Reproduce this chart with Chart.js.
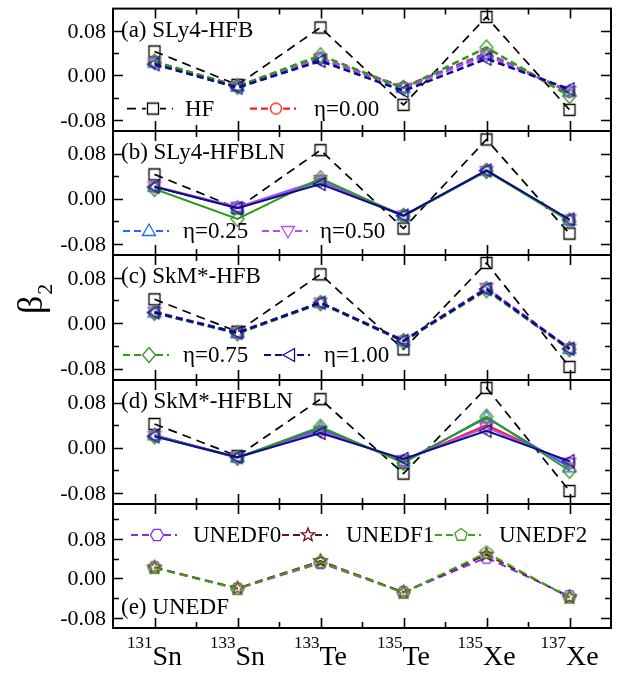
<!DOCTYPE html>
<html>
<head>
<meta charset="utf-8">
<script src="https://cdn.jsdelivr.net/npm/chart.js@4.4.0/dist/chart.umd.min.js"></script>
<style>
  html, body { margin: 0; padding: 0; background: #fff; }
  #wrap { position: relative; width: 622px; height: 673px; }
  #wrap canvas { position: absolute; left: 0; top: 0; }
</style>
</head>
<body>
<div id="wrap"></div>
<script>
// categories (nuclei) : mass number + element
const massNumbers = ['131', '133', '133', '135', '135', '137'];
const elements = ['Sn', 'Sn', 'Te', 'Te', 'Xe', 'Xe'];

// y ticks
const yMajorTicks = [-0.08, 0.00, 0.08];
const yTickLabels = ['-0.08', '0.00', '0.08'];
const yMinorTicks = [-0.04, 0.04, 0.12];

// HF reference values
const hfSLy4 = [0.043, -0.017, 0.086, -0.053, 0.105, -0.062];
const hfSkM = [0.042, -0.015, 0.086, -0.046, 0.106, -0.077];

// (a) SLy4-HFB
const aEta000 = [0.024, -0.019, 0.031, -0.021, 0.040, -0.030];
const aEta025 = [0.023, -0.020, 0.030, -0.022, 0.038, -0.029];
const aEta050 = [0.023, -0.021, 0.030, -0.023, 0.036, -0.028];
const aEta075 = [0.025, -0.020, 0.036, -0.023, 0.050, -0.037];
const aEta100 = [0.020, -0.022, 0.026, -0.028, 0.030, -0.025];

// (b) SLy4-HFBLN
const bEta000 = [0.021, -0.016, 0.031, -0.030, 0.050, -0.038];
const bEta025 = [0.021, -0.016, 0.031, -0.030, 0.050, -0.038];
const bEta050 = [0.022, -0.015, 0.033, -0.030, 0.049, -0.037];
const bEta075 = [0.017, -0.036, 0.036, -0.031, 0.049, -0.040];
const bEta100 = [0.021, -0.017, 0.026, -0.030, 0.050, -0.037];

// (c) SkM*-HFB
const cEta000 = [0.019, -0.017, 0.036, -0.031, 0.061, -0.045];
const cEta025 = [0.019, -0.017, 0.036, -0.031, 0.061, -0.045];
const cEta050 = [0.020, -0.017, 0.036, -0.031, 0.062, -0.045];
const cEta075 = [0.018, -0.018, 0.035, -0.032, 0.058, -0.046];
const cEta100 = [0.019, -0.017, 0.036, -0.031, 0.060, -0.045];

// (d) SkM*-HFBLN
const dEta000 = [0.022, -0.017, 0.030, -0.023, 0.040, -0.028];
const dEta025 = [0.022, -0.017, 0.034, -0.025, 0.053, -0.035];
const dEta050 = [0.021, -0.018, 0.029, -0.022, 0.036, -0.027];
const dEta075 = [0.020, -0.018, 0.037, -0.027, 0.055, -0.041];
const dEta100 = [0.020, -0.017, 0.026, -0.020, 0.030, -0.024];

// (e) UNEDF
const unedf0 = [0.022, -0.021, 0.031, -0.028, 0.042, -0.036];
const unedf1 = [0.022, -0.020, 0.035, -0.028, 0.048, -0.038];
const unedf2 = [0.021, -0.021, 0.033, -0.029, 0.052, -0.039];

const FONT = '"Liberation Serif", "Times New Roman", serif';
const W = 622, H = 673;
const plotLeft = 113, plotRight = 611;
const panelEdges = [7, 131, 255, 380, 504, 628];

// hollow marker images
function makeMarker(shape, color) {
    const c = document.createElement('canvas');
    c.width = 22; c.height = 22;
    const g = c.getContext('2d');
    g.translate(11, 11);
    g.strokeStyle = color;
    g.lineWidth = 1.3;
    g.beginPath();
    const poly = (pts) => { g.moveTo(pts[0][0], pts[0][1]); pts.slice(1).forEach(p => g.lineTo(p[0], p[1])); g.closePath(); };
    const regular = (n, r, rot) => {
        const pts = [];
        for (let k = 0; k < n; k++) {
            const t = rot + k * 2 * Math.PI / n;
            pts.push([r * Math.cos(t), r * Math.sin(t)]);
        }
        poly(pts);
    };
    switch (shape) {
        case 'square': g.rect(-5.5, -5.5, 11, 11); break;
        case 'circle': g.arc(0, 0, 5.5, 0, 2 * Math.PI); break;
        case 'triUp': poly([[0, -7], [6.5, 4.5], [-6.5, 4.5]]); break;
        case 'triDown': poly([[0, 7], [6.5, -4.5], [-6.5, -4.5]]); break;
        case 'triLeft': poly([[-7, 0], [4.5, -6.5], [4.5, 6.5]]); break;
        case 'diamond': poly([[0, -7.5], [6.5, 0], [0, 7.5], [-6.5, 0]]); break;
        case 'hexagon': regular(6, 6.5, 0); break;
        case 'pentagon': regular(5, 6.5, -Math.PI / 2); break;
        case 'star': {
            const pts = [];
            for (let k = 0; k < 10; k++) {
                const r = k % 2 ? 3 : 7;
                const t = -Math.PI / 2 + k * Math.PI / 5;
                pts.push([r * Math.cos(t), r * Math.sin(t)]);
            }
            poly(pts);
            break;
        }
    }
    g.stroke();
    return c;
}

// series styles
const styles = {
    hf:     { label: 'HF',     color: '#000000', shape: 'square' },
    e000:   { label: 'η=0.00', color: '#ff1a1a', shape: 'circle' },
    e025:   { label: 'η=0.25', color: '#2266ff', shape: 'triUp' },
    e050:   { label: 'η=0.50', color: '#b050f0', shape: 'triDown' },
    e075:   { label: 'η=0.75', color: '#2f9a1a', shape: 'diamond' },
    e100:   { label: 'η=1.00', color: '#0c0c8a', shape: 'triLeft' },
    u0:     { label: 'UNEDF0', color: '#7a30ee', shape: 'hexagon' },
    u1:     { label: 'UNEDF1', color: '#6e0d0d', shape: 'star' },
    u2:     { label: 'UNEDF2', color: '#3fa51a', shape: 'pentagon' }
};
Object.values(styles).forEach(s => { s.marker = makeMarker(s.shape, s.color); });

const hfDash = [9, 6];
const etaDash = [7, 4];

function series(key, values, kind) {
    const s = styles[key];
    let dash = [], width = 2;
    if (kind === 'hf') { dash = hfDash; width = 1.7; }
    else if (kind === 'dash') { dash = etaDash; width = 2.6; }
    else if (kind === 'udash') { dash = [8, 5]; width = 2; }
    return {
        label: s.label,
        data: values.map((v, i) => ({ x: i, y: v })),
        borderColor: s.color,
        borderWidth: width,
        borderDash: dash,
        pointStyle: s.marker,
        pointRadius: 6,
        pointHoverRadius: 6,
        fill: false,
        tension: 0
    };
}

function etaSet(vals, kind) {
    return [series('e000', vals[0], kind), series('e025', vals[1], kind), series('e050', vals[2], kind),
            series('e075', vals[3], kind), series('e100', vals[4], kind)];
}

const panels = [
    { title: '(a) SLy4-HFB', yMax: 0.12, titleY: 22,
      datasets: [series('hf', hfSLy4, 'hf')].concat(etaSet([aEta000, aEta025, aEta050, aEta075, aEta100], 'dash')),
      legendY: 100, legend: [['hf', 127, 185], ['e000', 250, 314]] },
    { title: '(b) SLy4-HFBLN', yMax: 0.12, titleY: 22,
      datasets: [series('hf', hfSLy4, 'hf')].concat(etaSet([bEta000, bEta025, bEta050, bEta075, bEta100], 'solid')),
      legendY: 100, legend: [['e025', 123, 183], ['e050', 262, 320]] },
    { title: '(c) SkM*-HFB', yMax: 0.12, titleY: 22, axisTitle: true,
      datasets: [series('hf', hfSkM, 'hf')].concat(etaSet([cEta000, cEta025, cEta050, cEta075, cEta100], 'dash')),
      legendY: 100, legend: [['e075', 123, 183], ['e100', 264, 324]] },
    { title: '(d) SkM*-HFBLN', yMax: 0.12, titleY: 22,
      datasets: [series('hf', hfSkM, 'hf')].concat(etaSet([dEta000, dEta025, dEta050, dEta075, dEta100], 'solid')),
      legendY: 100, legend: [] },
    { title: '(e) UNEDF', yMax: 0.15, titleY: 104,
      datasets: [series('u0', unedf0, 'udash'), series('u1', unedf1, 'udash'), series('u2', unedf2, 'udash')],
      legendY: 31, legend: [['u0', 131, 193], ['u1', 282, 346], ['u2', 435, 499]], last: true }
];

function drawPanelDecor(chart, p) {
    const ctx = chart.ctx, a = chart.chartArea;
    const xs = chart.scales.x, ys = chart.scales.y;
    ctx.save();
    ctx.strokeStyle = '#000';
    ctx.fillStyle = '#000';

    // ticks (inward)
    ctx.lineWidth = 1.6;
    ctx.beginPath();
    yMajorTicks.forEach(v => {
        const py = Math.round(ys.getPixelForValue(v)) + 0.5;
        ctx.moveTo(a.left, py); ctx.lineTo(a.left + 10, py);
        ctx.moveTo(a.right, py); ctx.lineTo(a.right - 10, py);
    });
    yMinorTicks.filter(v => v < p.yMax - 0.001).forEach(v => {
        const py = Math.round(ys.getPixelForValue(v)) + 0.5;
        ctx.moveTo(a.left, py); ctx.lineTo(a.left + 6, py);
        ctx.moveTo(a.right, py); ctx.lineTo(a.right - 6, py);
    });
    massNumbers.forEach((m, i) => {
        const px = Math.round(xs.getPixelForValue(i)) + 0.5;
        ctx.moveTo(px, a.top); ctx.lineTo(px, a.top + 10);
        ctx.moveTo(px, a.bottom); ctx.lineTo(px, a.bottom - 10);
        if (i < massNumbers.length - 1) {
            const hx = Math.round(xs.getPixelForValue(i + 0.5)) + 0.5;
            ctx.moveTo(hx, a.top); ctx.lineTo(hx, a.top + 6);
            ctx.moveTo(hx, a.bottom); ctx.lineTo(hx, a.bottom - 6);
        }
    });
    ctx.stroke();

    // frame
    ctx.lineWidth = 2;
    ctx.strokeRect(a.left, a.top, a.right - a.left, a.bottom - a.top);

    // y tick labels
    ctx.font = '22px ' + FONT;
    ctx.textAlign = 'right';
    ctx.textBaseline = 'middle';
    yMajorTicks.forEach((v, i) => {
        ctx.fillText(yTickLabels[i], a.left - 7, ys.getPixelForValue(v) + 1);
    });

    // panel title
    ctx.textAlign = 'left';
    ctx.font = '23px ' + FONT;
    ctx.fillText(p.title, a.left + 8, a.top + p.titleY);

    // legend entries
    p.legend.forEach(([key, x0, tx]) => {
        const s = styles[key];
        const ly = a.top + p.legendY;
        ctx.save();
        ctx.strokeStyle = s.color;
        ctx.lineWidth = key === 'hf' ? 1.6 : 2.2;
        ctx.setLineDash(key === 'hf' ? hfDash : etaDash);
        ctx.beginPath();
        ctx.moveTo(x0, ly); ctx.lineTo(x0 + 46, ly);
        ctx.stroke();
        ctx.restore();
        ctx.fillStyle = '#fff';
        ctx.fillRect(x0 + 19, ly - 7, 14, 14);
        ctx.drawImage(s.marker, x0 + 26 - 11, ly - 11);
        ctx.fillStyle = '#000';
        ctx.font = '23px ' + FONT;
        ctx.fillText(s.label, tx, ly + 1);
    });

    // x category labels with superscript mass numbers
    if (p.last) {
        massNumbers.forEach((m, i) => {
            const cx = xs.getPixelForValue(i);
            ctx.font = '17px ' + FONT;
            const w1 = ctx.measureText(m).width;
            ctx.font = '28px ' + FONT;
            const w2 = ctx.measureText(elements[i]).width;
            const x0 = cx - (w1 + w2) / 2;
            ctx.textBaseline = 'alphabetic';
            ctx.font = '17px ' + FONT;
            ctx.fillText(m, x0, 648);
            ctx.font = '28px ' + FONT;
            ctx.fillText(elements[i], x0 + w1, 665);
        });
    }

    // axis title beta_2
    if (p.axisTitle) {
        ctx.save();
        ctx.translate(42, 314);
        ctx.rotate(-Math.PI / 2);
        ctx.textAlign = 'left';
        ctx.textBaseline = 'alphabetic';
        ctx.font = '36px ' + FONT;
        ctx.fillText('β', 0, 0);
        const bw = ctx.measureText('β').width;
        ctx.font = '22px ' + FONT;
        ctx.fillText('2', bw + 1, 10);
        ctx.restore();
    }
    ctx.restore();
}

const wrap = document.getElementById('wrap');
panels.forEach((p, k) => {
    const cv = document.createElement('canvas');
    cv.width = W; cv.height = H;
    cv.style.width = W + 'px'; cv.style.height = H + 'px';
    wrap.appendChild(cv);
    const n = p.datasets.length;
    p.datasets.forEach((d, i) => { d.order = n - i; });
    new Chart(cv.getContext('2d'), {
        type: 'line',
        data: { datasets: p.datasets },
        options: {
            responsive: false,
            animation: false,
            devicePixelRatio: 1,
            layout: { padding: { left: plotLeft, right: W - plotRight, top: panelEdges[k], bottom: H - panelEdges[k + 1] } },
            scales: {
                x: { type: 'linear', min: -0.5, max: 5.5, display: false },
                y: { type: 'linear', min: -0.10, max: p.yMax, display: false }
            },
            plugins: { legend: { display: false }, tooltip: { enabled: false } },
            events: []
        },
        plugins: [{ id: 'decor' + k, afterDraw: chart => drawPanelDecor(chart, p) }]
    });
});
</script>
</body>
</html>
